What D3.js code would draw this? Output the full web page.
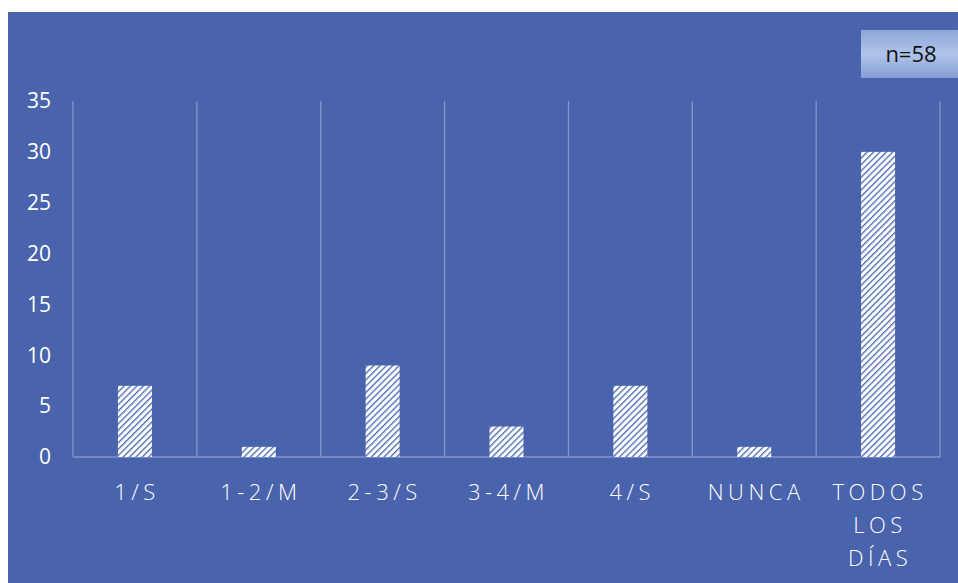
<!DOCTYPE html>
<html>
<head>
<meta charset="utf-8">
<script src="https://cdn.jsdelivr.net/npm/d3@7"></script>
<style>
  body { margin: 0; background: #fff; }
  text { font-family: "Open Sans", sans-serif; }
</style>
</head>
<body>
<div class="canvas"></div>
<script>
const categories = [['1/S'], ['1-2/M'], ['2-3/S'], ['3-4/M'], ['4/S'], ['NUNCA'], ['TODOS', 'LOS', 'DÍAS']];
const values = [7, 1, 9, 3, 7, 1, 30];
const yTicks = [0, 5, 10, 15, 20, 25, 30, 35];
const sampleLabel = 'n=58';

const width = 958, height = 583;
const plot = { left: 73, right: 940, top: 101, bottom: 457 };

const svg = d3.select('.canvas')
  .append('svg')
  .attr('width', width)
  .attr('height', height);

const defs = svg.append('defs');

const hatch = defs.append('pattern')
  .attr('id', 'hatch')
  .attr('patternUnits', 'userSpaceOnUse')
  .attr('width', 4.5)
  .attr('height', 4.5)
  .attr('patternTransform', 'rotate(45)');
hatch.append('rect').attr('width', 4.5).attr('height', 4.5).attr('fill', '#fff');
hatch.append('rect').attr('width', 1.4).attr('height', 4.5).attr('fill', '#5570b6');

const grad = defs.append('linearGradient')
  .attr('id', 'boxgrad')
  .attr('x1', 0).attr('y1', 0).attr('x2', 0).attr('y2', 1);
grad.append('stop').attr('offset', '0%').attr('stop-color', '#8ea5d9');
grad.append('stop').attr('offset', '50%').attr('stop-color', '#afc4ea');
grad.append('stop').attr('offset', '100%').attr('stop-color', '#869dd3');

// background
svg.append('rect')
  .attr('x', 8).attr('y', 12)
  .attr('width', width - 8).attr('height', height - 12)
  .attr('fill', '#4964ac');

const x = d3.scaleBand()
  .domain(d3.range(categories.length))
  .range([plot.left, plot.right])
  .paddingInner(0).paddingOuter(0);

const y = d3.scaleLinear()
  .domain([0, 35])
  .range([plot.bottom, plot.top]);

const graph = svg.append('g');

// vertical gridlines at category boundaries
const bounds = d3.range(categories.length + 1).map(i => plot.left + i * x.bandwidth());
graph.selectAll('.vgrid')
  .data(bounds)
  .enter().append('line')
  .attr('class', 'vgrid')
  .attr('x1', d => d).attr('x2', d => d)
  .attr('y1', plot.top).attr('y2', plot.bottom)
  .attr('stroke', '#8396cb')
  .attr('stroke-width', 1.3);

graph.append('line')
  .attr('x1', plot.left).attr('x2', plot.right)
  .attr('y1', plot.bottom).attr('y2', plot.bottom)
  .attr('stroke', '#8396cb')
  .attr('stroke-width', 1.3);

// bars
const barW = 34;
graph.selectAll('.bar')
  .data(values)
  .enter().append('rect')
  .attr('class', 'bar')
  .attr('x', (d, i) => x(i) + x.bandwidth() / 2 - barW / 2)
  .attr('y', d => y(d))
  .attr('width', barW)
  .attr('height', d => y(0) - y(d))
  .attr('fill', 'url(#hatch)');

// y axis labels
const yAxis = svg.append('g')
  .attr('transform', `translate(${plot.left - 22},0)`)
  .call(d3.axisLeft(y).tickValues(yTicks).tickSize(0).tickPadding(0));
yAxis.select('.domain').remove();
yAxis.selectAll('text')
  .attr('fill', '#fff')
  .style('font-size', '21px')
  .style('font-family', '"Open Sans", sans-serif');

// category labels
const cat = svg.append('g');
categories.forEach((lines, i) => {
  const t = cat.append('text')
    .attr('text-anchor', 'middle')
    .attr('fill', '#fff')
    .style('font-size', '22px')
    .style('font-weight', 300)
    .style('letter-spacing', '4.5px');
  lines.forEach((l, j) => {
    t.append('tspan')
      .attr('x', x(i) + x.bandwidth() / 2 + 2)
      .attr('y', 500 + j * 33)
      .text(l);
  });
});

// n=58 box
svg.append('rect')
  .attr('x', 861).attr('y', 30)
  .attr('width', 97).attr('height', 48)
  .attr('fill', 'url(#boxgrad)');
svg.append('text')
  .attr('x', 911).attr('y', 62)
  .attr('text-anchor', 'middle')
  .attr('fill', '#111')
  .style('font-size', '22px')
  .text(sampleLabel);
</script>
</body>
</html>
